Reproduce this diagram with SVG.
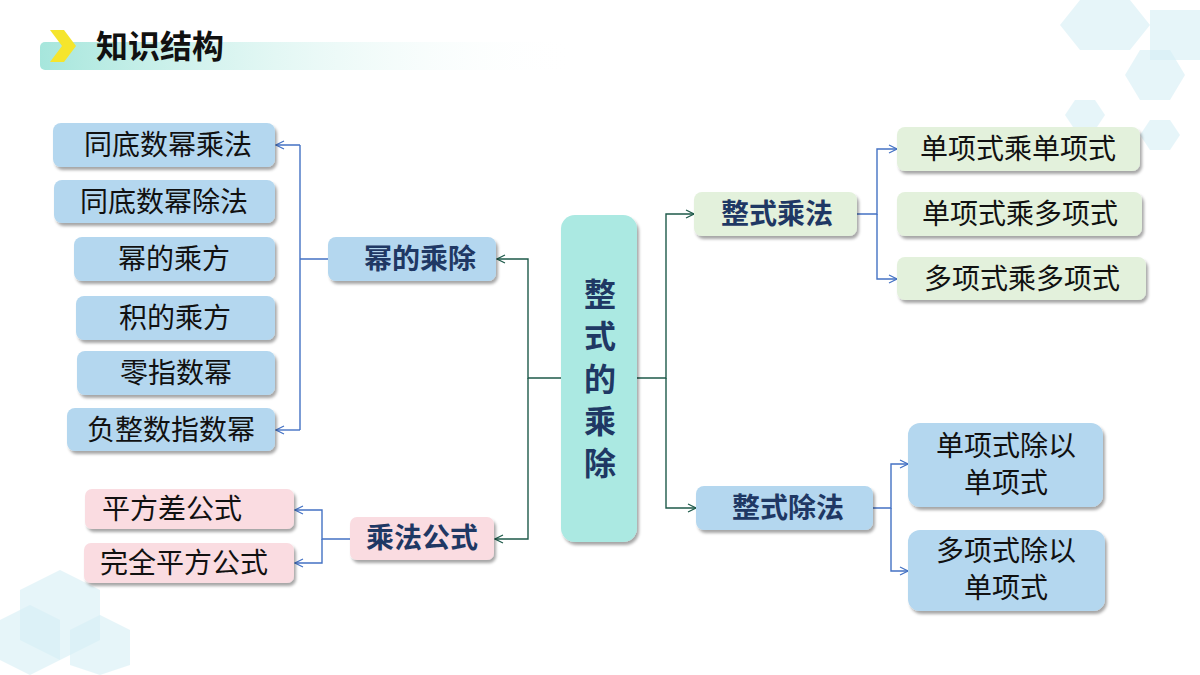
<svg xmlns="http://www.w3.org/2000/svg" width="1200" height="675" viewBox="0 0 1200 675">
<defs>
<linearGradient id="tg" x1="0" x2="1"><stop offset="0" stop-color="#a6e6dc"/><stop offset="1" stop-color="#ffffff" stop-opacity="0"/></linearGradient>
<filter id="sh" x="-10%" y="-10%" width="130%" height="140%"><feDropShadow dx="2" dy="3" stdDeviation="1.5" flood-color="#000" flood-opacity="0.35"/></filter>
<marker id="ab" markerWidth="10" markerHeight="10" refX="9" refY="5" orient="auto" markerUnits="userSpaceOnUse"><path d="M1,1 L9,5 L1,9" fill="none" stroke="#4472c4" stroke-width="1.2"/></marker>
<marker id="ag" markerWidth="10" markerHeight="10" refX="9" refY="5" orient="auto" markerUnits="userSpaceOnUse"><path d="M1,1 L9,5 L1,9" fill="none" stroke="#1e5a4a" stroke-width="1.2"/></marker>
</defs>
<style>
.b{fill:#b4d7ef}.g{fill:#e3f1dc}.p{fill:#fadce1}.c{fill:#abe9e2}
rect{filter:url(#sh)}
text{font-family:"Noto Sans CJK SC",sans-serif;font-size:28px;text-anchor:middle}
.k{fill:#111}.n{fill:#1f3864;font-weight:bold}
.lb{fill:none;stroke:#4472c4;stroke-width:1.4}.lg{fill:none;stroke:#1e5a4a;stroke-width:1.4}
.hx{fill:#d6eef5;opacity:0.6}
</style>
<g id="deco">
<polygon class="hx" points="1080,0 1130,0 1150,25 1130,50 1080,50 1060,25"/>
<polygon class="hx" points="1150,10 1200,10 1200,60 1150,60"/>
<polygon class="hx" points="1140,50 1170,50 1185,75 1170,100 1140,100 1125,75"/>
<polygon class="hx" points="1075,100 1095,100 1105,115 1095,130 1075,130 1065,115"/>
<polygon class="hx" points="1150,120 1170,120 1180,135 1170,150 1150,150 1140,135"/>
<polygon class="hx" points="20,590 60,570 100,590 100,640 60,660 20,640"/>
<polygon class="hx" points="0,620 30,605 60,620 60,660 30,675 0,660"/>
<polygon class="hx" points="70,630 100,615 130,630 130,665 100,675 70,665"/>
</g>
<g id="title">
<rect x="40" y="42" width="540" height="28" rx="5" fill="url(#tg)" style="filter:none"/>
<polygon points="50,30 64,30 76,46 64,62 50,62 62,46" fill="#f5e52c"/>
<text x="96" y="58" style="font-size:32px;font-weight:bold;text-anchor:start" class="k">知识结构</text>
</g>
<g id="connectors">
<path class="lb" d="M328,259 H300 M300,145 V430 M300,145 H276" marker-end="url(#ab)"/>
<path class="lb" d="M300,430 H276" marker-end="url(#ab)"/>
<path class="lg" d="M561,378 H528 V259 H497" marker-end="url(#ag)"/>
<path class="lg" d="M528,378 V539 H495" marker-end="url(#ag)"/>
<path class="lg" d="M637,378 H666 V214 H694" marker-end="url(#ag)"/>
<path class="lg" d="M666,378 V508 H696" marker-end="url(#ag)"/>
<path class="lb" d="M857,214 H877 V149 H897" marker-end="url(#ab)"/>
<path class="lb" d="M877,214 V279 H897" marker-end="url(#ab)"/>
<path class="lb" d="M873,508 H891 V464 H908" marker-end="url(#ab)"/>
<path class="lb" d="M891,508 V571 H908" marker-end="url(#ab)"/>
<path class="lb" d="M350,539 H322 V510 H295" marker-end="url(#ab)"/>
<path class="lb" d="M322,539 V563 H295" marker-end="url(#ab)"/>
</g>
<g id="n1"><rect class="b" x="53" y="123" width="222" height="44" rx="8"/><text class="k" x="168" y="155">同底数幂乘法</text></g>
<g id="n2"><rect class="b" x="54" y="180" width="221" height="43" rx="8"/><text class="k" x="164" y="212">同底数幂除法</text></g>
<g id="n3"><rect class="b" x="74" y="237" width="201" height="44" rx="8"/><text class="k" x="174" y="269">幂的乘方</text></g>
<g id="n4"><rect class="b" x="76" y="296" width="199" height="44" rx="8"/><text class="k" x="175" y="328">积的乘方</text></g>
<g id="n5"><rect class="b" x="77" y="351" width="198" height="44" rx="8"/><text class="k" x="176" y="383">零指数幂</text></g>
<g id="n6"><rect class="b" x="67" y="408" width="208" height="43" rx="8"/><text class="k" x="171" y="440">负整数指数幂</text></g>
<g id="n7"><rect class="b" x="328" y="237" width="168" height="44" rx="8"/><text class="n" x="420" y="269">幂的乘除</text></g>
<g id="n8"><rect class="p" x="85" y="489" width="209" height="40" rx="7"/><text class="k" x="172" y="519">平方差公式</text></g>
<g id="n9"><rect class="p" x="84" y="543" width="210" height="40" rx="7"/><text class="k" x="184" y="573">完全平方公式</text></g>
<g id="n10"><rect class="p" x="350" y="517" width="144" height="43" rx="7"/><text class="n" x="422" y="548">乘法公式</text></g>
<g id="center"><rect class="c" x="561" y="215" width="76" height="327" rx="14"/>
<text class="n" x="600" y="306" style="font-size:32px">整</text><text class="n" x="600" y="348" style="font-size:32px">式</text><text class="n" x="600" y="391" style="font-size:32px">的</text><text class="n" x="600" y="433" style="font-size:32px">乘</text><text class="n" x="600" y="475" style="font-size:32px">除</text></g>
<g id="n11"><rect class="g" x="694" y="192" width="163" height="44" rx="8"/><text class="n" x="777" y="224">整式乘法</text></g>
<g id="n12"><rect class="b" x="696" y="486" width="177" height="44" rx="8"/><text class="n" x="788" y="518">整式除法</text></g>
<g id="n13"><rect class="g" x="897" y="127" width="243" height="44" rx="8"/><text class="k" x="1018" y="159">单项式乘单项式</text></g>
<g id="n14"><rect class="g" x="897" y="192" width="245" height="44" rx="8"/><text class="k" x="1020" y="224">单项式乘多项式</text></g>
<g id="n15"><rect class="g" x="897" y="257" width="249" height="43" rx="8"/><text class="k" x="1022" y="289">多项式乘多项式</text></g>
<g id="n16"><rect class="b" x="908" y="423" width="195" height="84" rx="12"/><text class="k" x="1006" y="456">单项式除以</text><text class="k" x="1006" y="493">单项式</text></g>
<g id="n17"><rect class="b" x="908" y="530" width="197" height="81" rx="12"/><text class="k" x="1006" y="561">多项式除以</text><text class="k" x="1006" y="598">单项式</text></g>
</svg>
